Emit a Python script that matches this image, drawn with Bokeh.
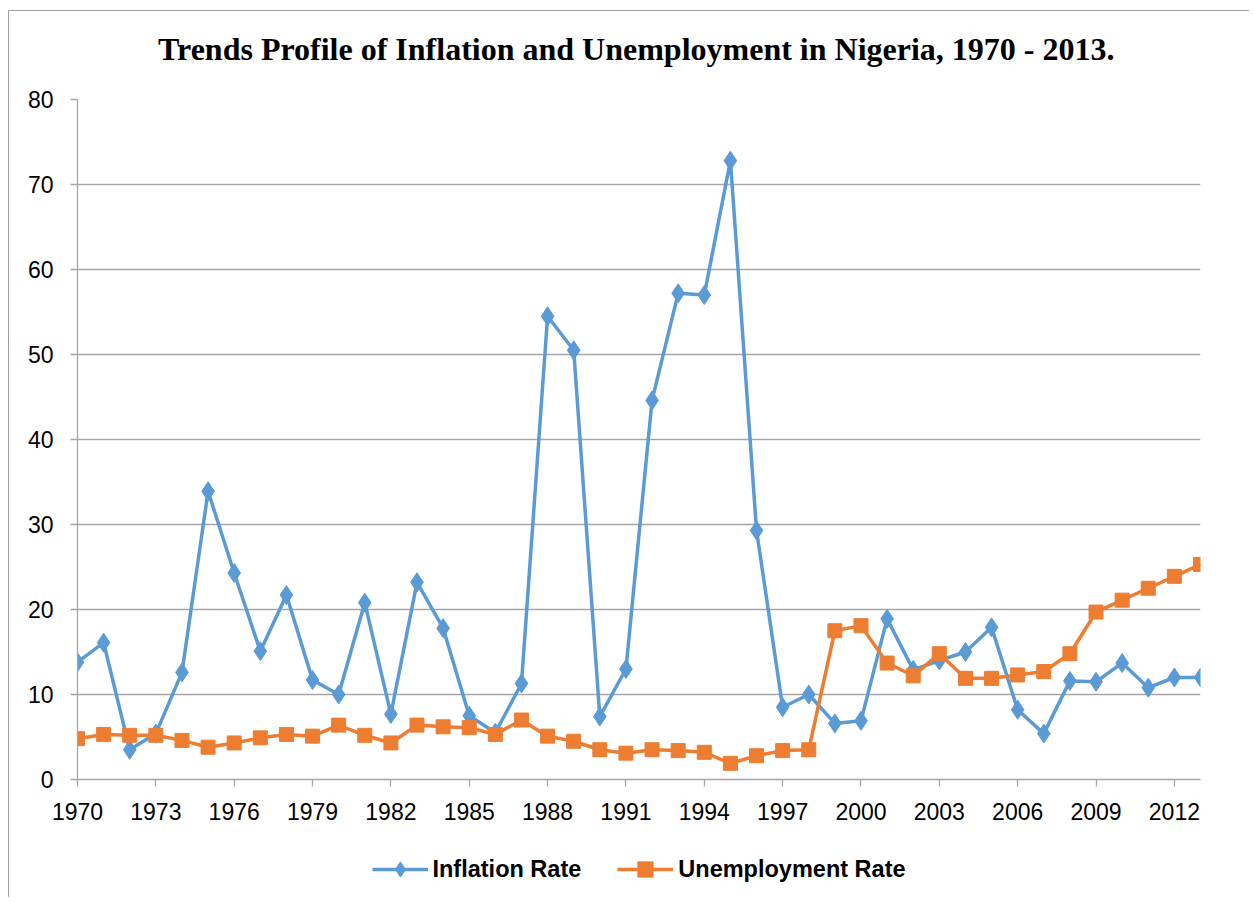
from bokeh.plotting import figure
from bokeh.layouts import column
from bokeh.models import Range1d, FixedTicker, Legend, LegendItem
from bokeh.core.properties import value
from bokeh.embed import file_html
from bokeh.resources import INLINE

years = list(range(1970, 2014))
inflation = [13.8, 16.1, 3.5, 5.4, 12.6, 33.9, 24.3, 15.1, 21.7, 11.7,
             10.0, 20.8, 7.7, 23.2, 17.8, 7.5, 5.5, 11.3, 54.5, 50.5,
             7.4, 13.0, 44.6, 57.2, 57.0, 72.8, 29.3, 8.5, 10.0, 6.6,
             6.9, 18.9, 12.9, 14.0, 15.0, 17.9, 8.2, 5.4, 11.6, 11.5,
             13.7, 10.8, 12.0, 12.0]
unemployment = [4.8, 5.3, 5.2, 5.2, 4.6, 3.8, 4.3, 4.9, 5.3, 5.1,
                6.4, 5.2, 4.3, 6.4, 6.2, 6.1, 5.3, 7.0, 5.1, 4.5,
                3.5, 3.1, 3.5, 3.4, 3.2, 1.9, 2.8, 3.4, 3.5, 17.5,
                18.1, 13.7, 12.2, 14.8, 11.9, 11.9, 12.3, 12.7, 14.8, 19.7,
                21.1, 22.5, 23.9, 25.3]
series_names = ["Inflation Rate", "Unemployment Rate"]
x_ticks = list(range(1970, 2013, 3))
y_ticks = list(range(0, 81, 10))
title_text = "Trends Profile of Inflation and Unemployment in Nigeria, 1970 - 2013."

BLUE = "#5B9BD5"
ORANGE = "#ED7D31"
GRID = "#a6a6a6"
W = 1240

# title strip (pixel-scaled ranges)
TITLE_H = 74
pt = figure(width=W, height=TITLE_H, output_backend="svg", toolbar_location=None,
            x_range=Range1d(0, W), y_range=Range1d(0, TITLE_H),
            min_border=0, x_axis_location=None, y_axis_location=None)
pt.outline_line_color = None
pt.grid.visible = False
pt.text(x=[617], y=[37], text=[title_text], text_align="center", text_baseline="alphabetic",
        text_font=value("Liberation Serif"), text_font_size="32px",
        text_font_style="bold", text_color="#000000")

# main chart
p = figure(width=W, height=756, output_backend="svg", toolbar_location=None,
           x_range=Range1d(1970, 2013), y_range=Range1d(0, 80),
           min_border_left=68, min_border_right=49, min_border_top=14, min_border_bottom=62)
p.outline_line_color = None

p.xgrid.grid_line_color = None
p.ygrid.grid_line_color = GRID
p.ygrid.grid_line_width = 1.3
p.ygrid.ticker = FixedTicker(ticks=y_ticks)

p.xaxis.ticker = FixedTicker(ticks=x_ticks)
p.xaxis.major_label_overrides = {t: str(t) for t in x_ticks}
p.yaxis.ticker = FixedTicker(ticks=y_ticks)
for ax in (p.xaxis, p.yaxis):
    ax.axis_line_color = GRID
    ax.axis_line_width = 1.3
    ax.major_tick_line_color = GRID
    ax.major_tick_line_width = 1.3
    ax.major_tick_out = 7
    ax.major_tick_in = 0
    ax.minor_tick_line_color = None
    ax.major_label_text_font = "Liberation Sans"
    ax.major_label_text_font_size = "23px"
    ax.major_label_text_color = "#000000"
p.xaxis.major_label_standoff = 16
p.yaxis.major_label_standoff = 17

p.line(years, inflation, line_color=BLUE, line_width=3.5)
p.scatter(years, inflation, marker="diamond", size=19, fill_color=BLUE, line_color=BLUE)
p.line(years, unemployment, line_color=ORANGE, line_width=3.5)
p.scatter(years, unemployment, marker="square", size=14, fill_color=ORANGE, line_color=ORANGE)

# legend strip below the plot (series drawn out of view, only the legend shows)
pl = figure(width=W, height=56, output_backend="svg", toolbar_location=None,
            x_range=Range1d(0, 1), y_range=Range1d(0, 1),
            min_border=0, x_axis_location=None, y_axis_location=None)
pl.outline_line_color = None
pl.grid.visible = False
ll1 = pl.line(years, inflation, line_color=BLUE, line_width=3.5)
ls1 = pl.scatter(years, inflation, marker="diamond", size=17, fill_color=BLUE, line_color=BLUE)
ll2 = pl.line(years, unemployment, line_color=ORANGE, line_width=3.5)
ls2 = pl.scatter(years, unemployment, marker="square", size=14, fill_color=ORANGE, line_color=ORANGE)
legend = Legend(items=[LegendItem(label=series_names[0], renderers=[ll1, ls1]),
                       LegendItem(label=series_names[1], renderers=[ll2, ls2])],
                orientation="horizontal", location="center",
                label_text_font="Liberation Sans", label_text_font_style="bold",
                label_text_font_size="23.5px", label_text_color="#000000",
                glyph_width=56, glyph_height=38, label_standoff=5, spacing=36,
                border_line_color=None, background_fill_alpha=0,
                margin=0, padding=4)
pl.add_layout(legend)

layout = column(pt, p, pl, spacing=0)
layout.styles = {"margin-left": "8px", "margin-top": "10px",
                 "border-left": "1px solid #a0a0a0", "border-top": "1px solid #a0a0a0"}

open("out.html", "w").write(file_html(layout, INLINE))
